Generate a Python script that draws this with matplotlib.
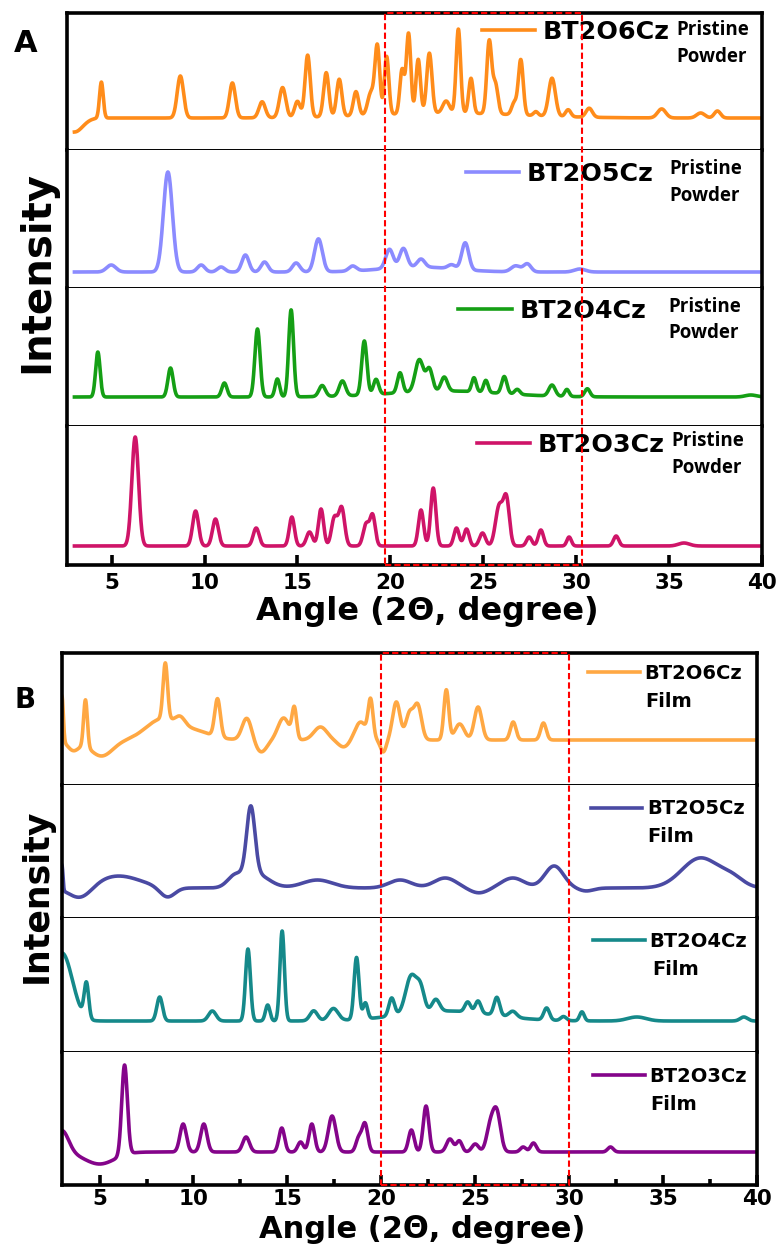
import numpy as np
import matplotlib
matplotlib.use('Agg')
import matplotlib.pyplot as plt
from matplotlib.patches import Rectangle
from matplotlib.ticker import MultipleLocator

# peaks: (2theta, height, width), heights in arbitrary counts
powder_6 = [(3.0, -14, 0.45), (4.45, 36, 0.1), (8.7, 42, 0.17), (11.5, 35, 0.16),
            (13.1, 16, 0.17), (14.2, 30, 0.17), (15.0, 16, 0.15), (15.55, 62, 0.14),
            (16.55, 44, 0.14), (17.25, 37, 0.14), (18.15, 24, 0.14), (18.95, 22, 0.17),
            (19.3, 68, 0.13), (19.8, 58, 0.12), (20.63, 44, 0.12), (20.98, 80, 0.12),
            (21.5, 54, 0.12), (22.1, 60, 0.14), (23.0, 12, 0.18), (23.66, 84, 0.12),
            (24.34, 35, 0.12), (25.32, 72, 0.13), (25.65, 30, 0.14), (26.67, 12, 0.14),
            (27.02, 55, 0.13), (27.83, 4, 0.12), (28.7, 38, 0.18), (29.57, 7, 0.14),
            (30.7, 9, 0.17), (34.6, 9, 0.22), (36.7, 5, 0.22), (37.6, 7, 0.17),
            (23.0, 5, 4.0)]
powder_5 = [(4.98, 7, 0.25), (8.03, 100, 0.24), (9.82, 7, 0.2), (10.89, 5, 0.2),
            (12.2, 17, 0.19), (13.23, 10, 0.19), (14.93, 9, 0.2), (16.13, 33, 0.21),
            (17.97, 5, 0.2), (19.95, 19, 0.2), (20.7, 19, 0.2), (21.65, 8, 0.2),
            (23.3, 4, 0.2), (24.03, 27, 0.19), (26.75, 6, 0.25), (27.37, 8, 0.2),
            (30.2, 3, 0.3), (21.5, 5, 2.0)]
powder_4 = [(4.26, 45, 0.12), (8.17, 29, 0.14), (11.07, 14, 0.14), (12.85, 68, 0.14),
            (13.92, 18, 0.12), (14.66, 87, 0.13), (16.33, 11, 0.17), (17.42, 15, 0.17),
            (18.6, 54, 0.14), (19.23, 15, 0.14), (23.0, 6, 3.0), (20.52, 20, 0.14),
            (21.56, 32, 0.22), (22.1, 22, 0.17), (22.9, 14, 0.17), (24.5, 14, 0.12),
            (25.14, 12, 0.12), (26.13, 17, 0.14), (26.83, 5, 0.14), (28.7, 11, 0.17),
            (29.5, 7, 0.12), (30.6, 8, 0.14), (39.4, 2, 0.3)]
powder_3 = [(6.27, 109, 0.18), (9.52, 35, 0.16), (10.59, 27, 0.16), (12.78, 18, 0.16),
            (14.7, 29, 0.14), (15.65, 14, 0.16), (16.27, 37, 0.14), (16.99, 28, 0.16),
            (17.38, 38, 0.16), (18.7, 22, 0.16), (19.05, 30, 0.14), (21.65, 36, 0.14),
            (22.31, 58, 0.14), (23.56, 18, 0.14), (24.1, 17, 0.14), (24.96, 13, 0.16),
            (25.86, 40, 0.2), (26.25, 45, 0.16), (27.47, 9, 0.14), (28.1, 16, 0.14),
            (29.62, 9, 0.12), (32.15, 10, 0.14), (35.8, 3, 0.3)]

film_6 = [(3.0, 45, 0.07), (3.6, -10, 0.3), (4.25, 47, 0.1), (5.1, -16, 0.6),
          (8.2, 18, 0.8), (9.8, 10, 1.0), (9.3, 8, 0.25), (8.5, 56, 0.12),
          (11.28, 38, 0.15), (12.84, 22, 0.25), (13.6, -12, 0.3), (14.8, 22, 0.3),
          (15.37, 30, 0.12), (16.76, 13, 0.35), (18.0, -7, 0.3), (18.9, 18, 0.3),
          (19.43, 38, 0.13), (20.1, -12, 0.15), (20.8, 38, 0.2), (21.5, 26, 0.2),
          (21.94, 34, 0.2), (23.46, 50, 0.13), (24.17, 16, 0.25), (25.15, 33, 0.2),
          (27.02, 18, 0.15), (28.63, 17, 0.15)]
film_5 = [(3.0, 25, 0.05), (4.0, -12, 0.6), (6.0, 12, 1.2), (8.6, -10, 0.4),
          (12.2, 10, 0.4), (13.05, 68, 0.22), (13.3, 14, 0.7), (16.6, 8, 0.8),
          (21.0, 8, 0.6), (23.4, 10, 0.6), (25.2, -5, 0.5), (27.0, 10, 0.6),
          (29.2, 22, 0.5), (30.9, -3, 0.4), (37.0, 30, 1.0), (38.7, 8, 0.6)]
film_4 = [(3.0, 68, 0.55), (4.3, 35, 0.12), (8.2, 24, 0.15), (11.0, 10, 0.2),
          (12.9, 72, 0.13), (13.95, 16, 0.12), (14.72, 90, 0.12), (16.4, 10, 0.2),
          (17.45, 12, 0.25), (18.68, 62, 0.13), (19.15, 16, 0.12), (23.5, 10, 2.5),
          (20.55, 18, 0.15), (21.6, 38, 0.3), (22.1, 20, 0.2), (22.9, 12, 0.2),
          (24.6, 10, 0.15), (25.15, 12, 0.15), (26.15, 18, 0.15), (27.0, 6, 0.2),
          (28.8, 12, 0.15), (29.7, 4, 0.15), (30.68, 9, 0.12), (33.6, 4, 0.5),
          (39.3, 4, 0.2)]
film_3 = [(3.0, 22, 0.35), (5.0, -12, 0.8), (6.33, 90, 0.15), (9.45, 28, 0.17),
          (10.55, 28, 0.17), (12.8, 15, 0.18), (14.7, 24, 0.15), (15.7, 10, 0.15),
          (16.3, 28, 0.15), (17.38, 36, 0.2), (18.8, 14, 0.15), (19.13, 28, 0.15),
          (21.6, 22, 0.15), (22.38, 46, 0.15), (23.65, 13, 0.18), (24.15, 11, 0.15),
          (25.0, 8, 0.18), (25.8, 25, 0.2), (26.15, 38, 0.2), (27.55, 5, 0.15),
          (28.1, 9, 0.15), (32.2, 5, 0.15)]

names = ['BT2O6Cz', 'BT2O5Cz', 'BT2O4Cz', 'BT2O3Cz']
colors_a = ['#ff8c1a', '#8b8bff', '#159f15', '#cf1468']
colors_b = ['#ffa843', '#4a4aa3', '#15898a', '#84048a']
ylims_a = [(-32, 105), (-16, 122), (-29, 109), (-19, 120)]
ylims_b = [(-45, 87), (-30, 103), (-31, 103), (-33, 100)]
box_a = (19.7, 30.3)
box_b = (20.0, 30.0)

theta = np.linspace(3, 40, 3701)


def pattern(peaks):
    y = np.zeros_like(theta)
    for pos, h, w in peaks:
        y += h * np.exp(-(theta - pos) ** 2 / (2 * w * w))
    return y


W, H = 777, 1247
plt.rcParams['font.family'] = ['DejaVu Sans']
plt.rcParams['font.weight'] = 'bold'
fig = plt.figure(figsize=(W / 100, H / 100), dpi=100)


def box(l, r, t, b):
    return [l / W, 1 - b / H, (r - l) / W, (b - t) / H]


def panel(left, right, rows, xlim, data, colors, ylims, legpos, notepos, note,
          legsize, hlen, tpad, notesize, notefam, redbox, minor, tickpad):
    axes = []
    for i, (t, b) in enumerate(rows):
        ax = fig.add_axes(box(left, right, t, b))
        line, = ax.plot(theta, pattern(data[i]), color=colors[i], lw=2.6)
        ax.set_xlim(*xlim)
        ax.set_ylim(*ylims[i])
        ax.set_yticks([])
        for s in ['left', 'right']:
            ax.spines[s].set_linewidth(2.6)
        if i == 0:
            ax.spines['top'].set_linewidth(2.6)
        else:
            ax.spines['top'].set_visible(False)
        if i == len(rows) - 1:
            ax.spines['bottom'].set_linewidth(2.6)
            ax.set_xticks(np.arange(5, 41, 5))
            ax.tick_params(axis='x', direction='in', length=7, width=2.6,
                           labelsize=15.5, pad=tickpad)
            if minor:
                ax.xaxis.set_minor_locator(MultipleLocator(2.5))
                ax.tick_params(axis='x', which='minor', direction='in',
                               length=4, width=2.6)
        else:
            ax.spines['bottom'].set_linewidth(1.4)
            ax.set_xticks([])
        hx, hy = legpos[i]
        ax.legend([line], [names[i]], loc='center left', bbox_to_anchor=(hx, hy),
                  frameon=False, borderpad=0, borderaxespad=0, handlelength=hlen,
                  handletextpad=tpad, prop={'weight': 'bold', 'size': legsize})
        nx, ny = notepos[i]
        ax.text(nx, ny, note, transform=ax.transAxes, ha='left', va='center',
                fontsize=notesize, fontweight='bold', family=notefam,
                linespacing=1.45)
        axes.append(ax)
    over = fig.add_axes(box(left, right, rows[0][0], rows[-1][1]))
    over.set_xlim(*xlim)
    over.set_ylim(0, 1)
    over.axis('off')
    over.add_patch(Rectangle((redbox[0], 0), redbox[1] - redbox[0], 1, fill=False,
                             ec='red', lw=1.5, ls=(0, (3, 1.5)), clip_on=False))
    return axes


panel(67, 762, [(13, 150), (150, 288), (288, 426), (426, 565)], (2.6, 40),
      [powder_6, powder_5, powder_4, powder_3], colors_a, ylims_a,
      [(0.597, 0.861), (0.574, 0.826), (0.563, 0.833), (0.590, 0.863)],
      [(0.877, 0.777), (0.867, 0.764), (0.866, 0.768), (0.870, 0.795)],
      'Pristine\nPowder', 18.3, 2.1, 0.3, 13.5, 'Open Sans', box_a, False, 6)

panel(62, 757, [(653, 785), (785, 918), (918, 1052), (1052, 1185)], (3, 40),
      [film_6, film_5, film_4, film_3], colors_b, ylims_b,
      [(0.757, 0.848), (0.761, 0.820), (0.764, 0.823), (0.764, 0.814)],
      [(0.839, 0.629), (0.842, 0.611), (0.849, 0.619), (0.846, 0.602)],
      'Film', 14, 2.65, 0.25, 14, 'DejaVu Sans', box_b, True, 3)

fig.text(26 / W, 1 - 43 / H, 'A', ha='center', va='center', fontsize=22, fontweight='bold')
fig.text(25 / W, 1 - 700 / H, 'B', ha='center', va='center', fontsize=20, fontweight='bold')
fig.text(37 / W, 1 - 272 / H, 'Intensity', rotation=90, ha='center', va='center',
         fontsize=29, fontweight='bold')
fig.text(37 / W, 1 - 896 / H, 'Intensity', rotation=90, ha='center', va='center',
         fontsize=25, fontweight='bold')
fig.text(427 / W, 1 - 612 / H, 'Angle (2\u0398, degree)', ha='center', va='center',
         fontsize=23, fontweight='bold')
fig.text(422 / W, 1 - 1229 / H, 'Angle (2\u0398, degree)', ha='center', va='center',
         fontsize=22, fontweight='bold')

fig.savefig('out.png', dpi=100)
